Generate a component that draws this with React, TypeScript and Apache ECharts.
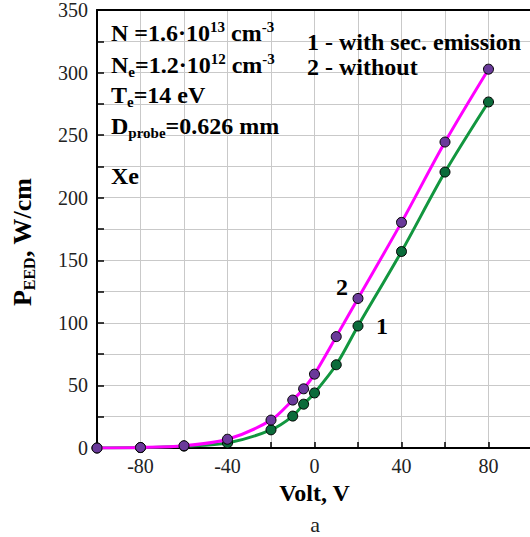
import React, { useEffect, useRef } from "react";
import * as echarts from "echarts";

const voltages = [-100, -80, -60, -40, -20, -10, -5, 0, 10, 20, 40, 60, 80];
const withEmission = [0, 0.3, 1.5, 4, 14.5, 25.5, 35, 44, 66.5, 97.5, 157, 220.5, 276.5];
const withoutEmission = [0, 0.4, 1.8, 7, 22.3, 38.3, 47.3, 59, 89, 119.5, 180.3, 244.5, 302.7];
const xTickLabels = [-80, -40, 0, 40, 80];
const yTickLabels = [0, 50, 100, 150, 200, 250, 300, 350];

const SERIF = "'Liberation Serif', 'DejaVu Serif', serif";
const GREEN_TEXT = "#168a1e";

export default function App() {
  const ref = useRef<HTMLDivElement>(null);
  useEffect(() => {
    if (!ref.current) return;
    const chart = echarts.init(ref.current, null, { renderer: "svg" });
    const main = { fontSize: 24, fontWeight: "bold", fontFamily: SERIF, color: GREEN_TEXT, lineHeight: 28 };
    const sup = { fontSize: 15, fontWeight: "bold", fontFamily: SERIF, color: GREEN_TEXT, verticalAlign: "top", lineHeight: 15 };
    const sub = { fontSize: 15, fontWeight: "bold", fontFamily: SERIF, color: GREEN_TEXT, verticalAlign: "bottom", lineHeight: 15 };
    const greenRich = { a: main, p: sup, b: sub };
    const blackBold = { fontSize: 24, fontWeight: "bold", fontFamily: SERIF, fill: "#000", verticalAlign: "middle" };
    const gridLine = { show: true, lineStyle: { color: "#c9c9c9", type: "solid", width: 1 } };
    chart.setOption({
      animation: false,
      grid: { left: 97, width: 435, top: 10, height: 438, containLabel: false, outerBoundsMode: "none" },
      xAxis: [
        {
          type: "value",
          min: -100,
          max: 100,
          interval: 20,
          name: "Volt, V",
          nameLocation: "middle",
          nameGap: 31,
          nameTextStyle: { fontFamily: SERIF, fontSize: 24, fontWeight: "bold", color: "#000" },
          axisLine: { onZero: false, lineStyle: { color: "#000", width: 2 } },
          axisTick: { show: true, inside: true, length: 6, lineStyle: { color: "#000", width: 1.5 } },
          axisLabel: {
            fontFamily: SERIF,
            fontSize: 20,
            color: "#222",
            margin: 8,
            formatter: (v: number) => (xTickLabels.includes(v) ? String(v) : ""),
          },
          splitLine: gridLine,
        },
        {
          type: "value",
          position: "top",
          min: -100,
          max: 100,
          axisLine: { show: true, onZero: false, lineStyle: { color: "#000", width: 2 } },
          axisTick: { show: false },
          axisLabel: { show: false },
          splitLine: { show: false },
        },
      ],
      yAxis: {
        type: "value",
        min: 0,
        max: 350,
        interval: 25,
        axisLine: { show: true, onZero: false, lineStyle: { color: "#000", width: 2 } },
        axisTick: { show: true, inside: true, length: 7, lineStyle: { color: "#000", width: 1.5 } },
        axisLabel: {
          fontFamily: SERIF,
          fontSize: 20,
          color: "#222",
          margin: 9,
          formatter: (v: number) => (yTickLabels.includes(v) ? String(v) : ""),
        },
        splitLine: gridLine,
      },
      series: [
        {
          name: "1 - with sec. emission",
          type: "line",
          smooth: 0.3,
          data: voltages.map((v, i) => [v, withEmission[i]]),
          lineStyle: { color: "#12963f", width: 3 },
          symbol: "circle",
          symbolSize: 10,
          itemStyle: { color: "#0b6b3a", borderColor: "#000", borderWidth: 1 },
          z: 2,
        },
        {
          name: "2 - without",
          type: "line",
          smooth: 0.3,
          data: voltages.map((v, i) => [v, withoutEmission[i]]),
          lineStyle: { color: "#ff00ff", width: 3 },
          symbol: "circle",
          symbolSize: 10,
          itemStyle: { color: "#6a3a9a", borderColor: "#000", borderWidth: 1 },
          z: 3,
        },
      ],
      graphic: [
        { type: "text", x: 111, y: 33, style: { text: "{a|N =1.6·10}{p|13}{a| cm}{p|-3}", rich: greenRich, verticalAlign: "middle" }, z: 10 },
        { type: "text", x: 111, y: 65, style: { text: "{a|N}{b|e}{a|=1.2·10}{p|12}{a| cm}{p|-3}", rich: greenRich, verticalAlign: "middle" }, z: 10 },
        { type: "text", x: 111, y: 95, style: { text: "{a|T}{b|e}{a|=14 eV}", rich: greenRich, verticalAlign: "middle" }, z: 10 },
        { type: "text", x: 111, y: 126, style: { text: "{a|D}{b|probe}{a|=0.626 mm}", rich: greenRich, verticalAlign: "middle" }, z: 10 },
        { type: "text", x: 111, y: 176, style: { text: "Xe", ...blackBold }, z: 10 },
        { type: "text", x: 307, y: 42, style: { text: "1 - with sec. emission", ...blackBold }, z: 10 },
        { type: "text", x: 307, y: 67, style: { text: "2 - without", ...blackBold }, z: 10 },
        { type: "text", x: 342, y: 287, style: { text: "2", ...blackBold, align: "center" }, z: 10 },
        { type: "text", x: 382, y: 326, style: { text: "1", ...blackBold, align: "center" }, z: 10 },
        {
          type: "text",
          x: 22,
          y: 242,
          rotation: Math.PI / 2,
          style: {
            text: "{a|P}{b|EED}{a|, W/cm}",
            align: "center",
            verticalAlign: "middle",
            rich: {
              a: { fontSize: 26, fontWeight: "bold", fontFamily: SERIF, color: "#000", lineHeight: 30 },
              b: { fontSize: 16, fontWeight: "bold", fontFamily: SERIF, color: "#000", verticalAlign: "bottom", lineHeight: 16 },
            },
          },
          z: 10,
        },
        { type: "text", x: 315, y: 524, style: { text: "a", fontSize: 22, fontFamily: SERIF, fill: "#222", align: "center", verticalAlign: "middle" }, z: 10 },
      ],
    });
    return () => chart.dispose();
  }, []);
  return <div ref={ref} style={{ width: 530, height: 537, position: "absolute", left: 0, top: 0 }} />;
}
